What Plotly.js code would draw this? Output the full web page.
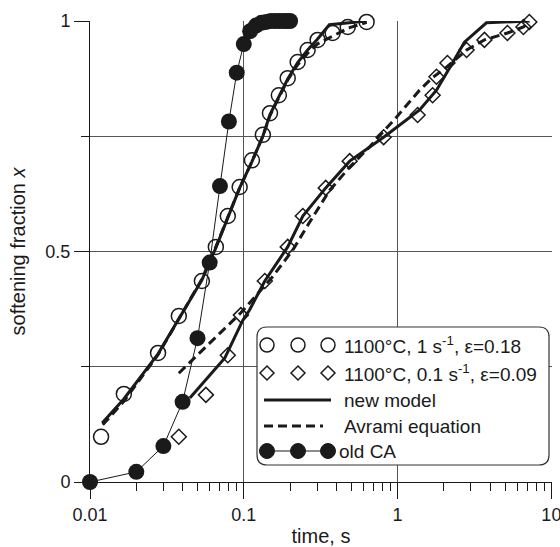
<!DOCTYPE html>
<html>
<head>
<meta charset="utf-8">
<script src="https://cdn.plot.ly/plotly-3.0.1.min.js"></script>
<style>html,body{margin:0;padding:0;background:#fff;overflow:hidden;}#chart{width:560px;height:547px;}</style>
</head>
<body>
<div id="chart"></div>
<script>
// ---- data ----
const tCirc = [0.0118, 0.0166, 0.0277, 0.0378, 0.0534, 0.0658, 0.0787, 0.094, 0.113, 0.133, 0.148, 0.169, 0.193, 0.224, 0.260, 0.302, 0.378, 0.474, 0.629];
const xCirc = [0.098, 0.191, 0.280, 0.360, 0.436, 0.510, 0.577, 0.640, 0.698, 0.753, 0.800, 0.839, 0.876, 0.911, 0.937, 0.959, 0.974, 0.987, 0.998];

const tDiam = [0.0378, 0.0567, 0.0787, 0.0957, 0.137, 0.193, 0.242, 0.341, 0.488, 0.811, 1.35, 1.69, 1.79, 2.11, 2.81, 3.67, 5.18, 6.58, 7.19];
const xDiam = [0.098, 0.189, 0.275, 0.362, 0.436, 0.510, 0.577, 0.638, 0.696, 0.748, 0.796, 0.839, 0.879, 0.909, 0.937, 0.959, 0.974, 0.987, 0.998];

const tOld = [0.01, 0.02, 0.03, 0.04, 0.05, 0.06, 0.07, 0.08, 0.09, 0.10, 0.11, 0.12, 0.13, 0.14, 0.15, 0.16, 0.17, 0.18, 0.19, 0.20];
const xOld = [0.0, 0.022, 0.078, 0.174, 0.312, 0.476, 0.642, 0.782, 0.888, 0.950, 0.978, 0.990, 0.996, 0.998, 1.0, 1.0, 1.0, 1.0, 1.0, 1.0];

const tNew1 = [0.012, 0.0166, 0.0277, 0.0378, 0.0534, 0.0658, 0.0787, 0.094, 0.113, 0.133, 0.148, 0.169, 0.193, 0.224, 0.26, 0.30, 0.36, 0.63];
const xNew1 = [0.128, 0.180, 0.278, 0.355, 0.438, 0.508, 0.575, 0.638, 0.695, 0.750, 0.797, 0.836, 0.874, 0.910, 0.937, 0.960, 0.992, 1.0];

const tAvr1 = [0.0121, 0.0166, 0.0277, 0.0378, 0.0534, 0.0658, 0.0787, 0.094, 0.113, 0.133, 0.148, 0.169, 0.193, 0.224, 0.26, 0.30, 0.40, 0.48, 0.63];
const xAvr1 = [0.124, 0.175, 0.276, 0.355, 0.440, 0.510, 0.575, 0.638, 0.695, 0.750, 0.795, 0.834, 0.872, 0.905, 0.930, 0.950, 0.972, 0.985, 0.997];

const tNew2 = [0.0446, 0.0753, 0.0986, 0.109, 0.137, 0.193, 0.242, 0.341, 0.488, 0.811, 1.39, 1.79, 2.24, 2.72, 3.78, 7.2];
const xNew2 = [0.182, 0.269, 0.351, 0.373, 0.436, 0.510, 0.577, 0.638, 0.696, 0.748, 0.807, 0.850, 0.905, 0.954, 0.996, 1.0];

const tAvr2 = [0.0378, 0.0957, 0.152, 0.208, 0.256, 0.362, 0.488, 0.658, 0.986, 1.39, 1.67, 2.08, 2.81, 3.67, 5.18, 6.58, 7.2];
const xAvr2 = [0.236, 0.367, 0.443, 0.503, 0.553, 0.633, 0.683, 0.727, 0.792, 0.850, 0.876, 0.900, 0.937, 0.959, 0.974, 0.987, 0.998];

const legendLabels = ["1100°C, 1 s<sup>-1</sup>, ε=0.18", "1100°C, 0.1 s<sup>-1</sup>, ε=0.09", "new model", "Avrami equation", "old CA"];
const xTickVals = [0.01, 0.1, 1, 10];
const xTickText = ["0.01", "0.1", "1", "10"];
const yTickVals = [0, 0.5, 1];
const yTickText = ["0", "0.5", "1"];

// ---- layout geometry ----
const W = 560, H = 547;
const L = 90, R = 552, T = 21, B = 482;
const FONT = "Liberation Sans, Arial, Helvetica, sans-serif";
const INK = "#1a1a1a";
const GRID = "#555555";
const px = p => (p - L) / (R - L);
const py = p => (B - p) / (B - T);

const traces = [
  {x: tOld, y: xOld, mode: "lines+markers", line: {color: INK, width: 1}, marker: {symbol: "circle", size: 16, color: INK}, cliponaxis: false, showlegend: false},
  {x: tNew1, y: xNew1, mode: "lines", line: {color: INK, width: 3}, cliponaxis: false, showlegend: false},
  {x: tAvr1, y: xAvr1, mode: "lines", line: {color: INK, width: 3, dash: "9px,5px"}, cliponaxis: false, showlegend: false},
  {x: tNew2, y: xNew2, mode: "lines", line: {color: INK, width: 3}, cliponaxis: false, showlegend: false},
  {x: tAvr2, y: xAvr2, mode: "lines", line: {color: INK, width: 3, dash: "9px,5px"}, cliponaxis: false, showlegend: false},
  {x: tCirc, y: xCirc, mode: "markers", marker: {symbol: "circle-open", size: 15, color: INK, line: {width: 1.5, color: INK}}, cliponaxis: false, showlegend: false},
  {x: tDiam, y: xDiam, mode: "markers", marker: {symbol: "diamond-open", size: 11.5, color: INK, line: {width: 1.5, color: INK}}, cliponaxis: false, showlegend: false}
];

// ---- custom legend (rounded box, three symbols per sample) ----
function roundRect(x1, y1, x2, y2, r) {
  const X = p => px(p).toFixed(5), Y = p => py(p).toFixed(5);
  return "M" + X(x1 + r) + "," + Y(y1) +
    " L" + X(x2 - r) + "," + Y(y1) + " Q" + X(x2) + "," + Y(y1) + " " + X(x2) + "," + Y(y1 + r) +
    " L" + X(x2) + "," + Y(y2 - r) + " Q" + X(x2) + "," + Y(y2) + " " + X(x2 - r) + "," + Y(y2) +
    " L" + X(x1 + r) + "," + Y(y2) + " Q" + X(x1) + "," + Y(y2) + " " + X(x1) + "," + Y(y2 - r) +
    " L" + X(x1) + "," + Y(y1 + r) + " Q" + X(x1) + "," + Y(y1) + " " + X(x1 + r) + "," + Y(y1) + " Z";
}
const shapes = [];
const annotations = [];
shapes.push({type: "path", xref: "paper", yref: "paper", path: roundRect(257, 327, 549, 465, 10), fillcolor: "#ffffff", line: {color: "#333333", width: 1.2}, layer: "above"});
const symX = [267, 298, 328];
const rowY = [345, 373, 400, 426, 451];
symX.forEach(cx => {
  shapes.push({type: "circle", xref: "paper", yref: "paper", x0: px(cx - 7), x1: px(cx + 7), y0: py(rowY[0] + 7), y1: py(rowY[0] - 7), line: {color: INK, width: 1.5}, layer: "above"});
  const d = 7, cy = rowY[1];
  shapes.push({type: "path", xref: "paper", yref: "paper", path: "M" + px(cx - d) + "," + py(cy) + " L" + px(cx) + "," + py(cy - d) + " L" + px(cx + d) + "," + py(cy) + " L" + px(cx) + "," + py(cy + d) + " Z", line: {color: INK, width: 1.5}, layer: "above"});
});
shapes.push({type: "line", xref: "paper", yref: "paper", x0: px(264), x1: px(331), y0: py(rowY[2]), y1: py(rowY[2]), line: {color: INK, width: 3}, layer: "above"});
shapes.push({type: "line", xref: "paper", yref: "paper", x0: px(264), x1: px(323), y0: py(rowY[3]), y1: py(rowY[3]), line: {color: INK, width: 3, dash: "9px,5px"}, layer: "above"});
shapes.push({type: "line", xref: "paper", yref: "paper", x0: px(267), x1: px(328), y0: py(rowY[4]), y1: py(rowY[4]), line: {color: INK, width: 1.2}, layer: "above"});
symX.forEach(cx => {
  shapes.push({type: "circle", xref: "paper", yref: "paper", x0: px(cx - 7.5), x1: px(cx + 7.5), y0: py(rowY[4] + 7.5), y1: py(rowY[4] - 7.5), fillcolor: INK, line: {color: INK, width: 1}, layer: "above"});
});
const textX = [343, 343, 343, 343, 338];
legendLabels.forEach((lab, i) => {
  annotations.push({xref: "paper", yref: "paper", x: px(textX[i]), y: py(rowY[i]), xanchor: "left", yanchor: "middle", text: lab, showarrow: false, borderpad: 0, font: {family: FONT, size: 19, color: INK}});
});

const layout = {
  width: W, height: H,
  margin: {l: L, r: W - R, t: T, b: H - B, pad: 0},
  paper_bgcolor: "#ffffff", plot_bgcolor: "#ffffff",
  font: {family: FONT, size: 18, color: INK},
  showlegend: false,
  xaxis: {
    type: "log", range: [-2, 1.004],
    tickmode: "array", tickvals: xTickVals, ticktext: xTickText,
    ticks: "outside", ticklen: 16, tickwidth: 1, tickcolor: INK,
    ticklabeloverflow: "allow",
    minor: {dtick: "D1", ticks: "outside", ticklen: 8, tickwidth: 1, tickcolor: INK, showgrid: false},
    showline: true, linecolor: INK, linewidth: 1,
    showgrid: true, gridcolor: GRID, gridwidth: 1, zeroline: false,
    tickfont: {family: FONT, size: 18, color: INK},
    title: {text: "time, s", font: {family: FONT, size: 20, color: INK}, standoff: 6}
  },
  yaxis: {
    range: [0, 1],
    tickmode: "array", tickvals: yTickVals, ticktext: yTickText,
    ticks: "outside", ticklen: 15, tickwidth: 1, tickcolor: INK,
    minor: {tickvals: [0.25, 0.75], ticks: "outside", ticklen: 8, tickwidth: 1, tickcolor: INK, showgrid: true, gridcolor: GRID, gridwidth: 1},
    showline: true, linecolor: INK, linewidth: 1,
    showgrid: true, gridcolor: GRID, gridwidth: 1, zeroline: false,
    tickfont: {family: FONT, size: 18, color: INK},
    title: {text: "softening fraction <i>x</i>", font: {family: FONT, size: 20, color: INK}, standoff: 14}
  },
  shapes: shapes,
  annotations: annotations
};

Plotly.newPlot("chart", traces, layout, {staticPlot: true, displayModeBar: false});
</script>
</body>
</html>
